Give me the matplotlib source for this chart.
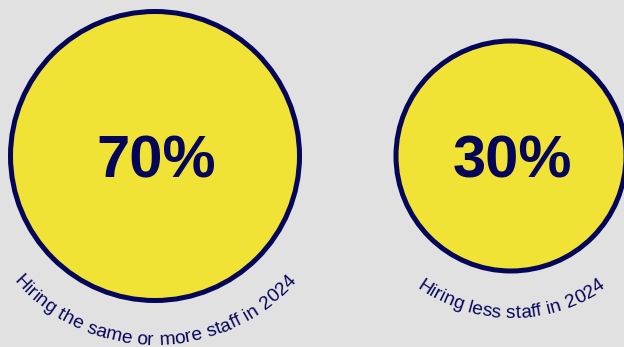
import numpy as np
import matplotlib
matplotlib.use('Agg')
import matplotlib.pyplot as plt
from matplotlib.patches import Circle

# Data
labels = ["Hiring the same or more staff in 2024", "Hiring less staff in 2024"]
shares = [70, 30]

# Layout (pixels, y down)
centers = [(155, 156), (511, 156)]
radii = [144.5, 115]
text_radii = [189, 162]

W, H = 624, 347
bg = '#e1e1e1'
yellow = '#f1e335'
navy = '#05055a'

fig = plt.figure(figsize=(W / 100, H / 100), dpi=100, facecolor=bg)
ax = fig.add_axes([0, 0, 1, 1])
ax.set_xlim(0, W)
ax.set_ylim(0, H)
ax.set_aspect('equal')
ax.axis('off')
ax.set_facecolor(bg)

renderer = fig.canvas.get_renderer()


def curved_text(text, cx, cy, r, size):
    # breedte van elk teken meten in pixels
    widths = []
    for ch in text:
        t = ax.text(0, 0, ch if ch != ' ' else 'a a', fontsize=size, family='Liberation Sans')
        w = t.get_window_extent(renderer).width
        if ch == ' ':
            t2 = ax.text(0, 0, 'aa', fontsize=size, family='Liberation Sans')
            w = w - t2.get_window_extent(renderer).width
            t2.remove()
        widths.append(w + 0.15)
        t.remove()
    total = sum(widths)
    span = total / r  # radialen
    start = -np.pi / 2 - span / 2
    s = 0
    for ch, w in zip(text, widths):
        phi = start + (s + w / 2) / r
        x = cx + r * np.cos(phi)
        y = cy + r * np.sin(phi)
        ax.text(x, y, ch, fontsize=size, family='Liberation Sans', color=navy,
                rotation=np.degrees(phi) + 90, rotation_mode='anchor',
                ha='center', va='baseline')
        s += w


for (cx, cy), r, tr, share, label in zip(centers, radii, text_radii, shares, labels):
    cy_up = H - cy
    ax.add_patch(Circle((cx, cy_up), r, facecolor=yellow, edgecolor=navy, linewidth=3.6))
    ax.text(cx + 1.5, cy_up - 6, f"{share}%", fontsize=43, fontweight='bold', color=navy,
            family='Liberation Sans', ha='center', va='center')
    curved_text(label, cx, cy_up, tr, 13.8)

fig.savefig('out.png', dpi=100, facecolor=bg)
